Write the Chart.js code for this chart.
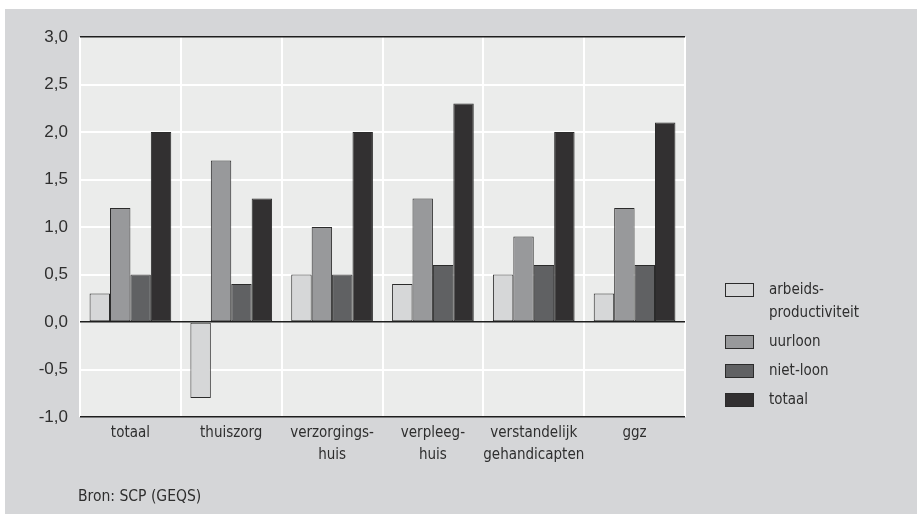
<!DOCTYPE html>
<html>
<head>
<meta charset="utf-8">
<script src="https://cdn.jsdelivr.net/npm/chart.js@4/dist/chart.umd.min.js"></script>
<style>
  html, body { margin: 0; padding: 0; background: #ffffff; }
  body { width: 917px; height: 514px; position: relative; overflow: hidden; }
  #wrap { position: absolute; left: 5px; top: 9px; width: 912px; height: 505px; background: #d5d6d8; }
  canvas { display: block; }
</style>
</head>
<body>
<div id="wrap"><canvas id="c" width="912" height="505"></canvas></div>
<script>
// ---- data ----
const categories = ['totaal', 'thuiszorg', ['verzorgings-', 'huis'], ['verpleeg-', 'huis'], ['verstandelijk', 'gehandicapten'], 'ggz'];
const seriesNames = [['arbeids-', 'productiviteit'], ['uurloon'], ['niet-loon'], ['totaal']];
const arbeidsproductiviteit = [0.3, -0.8, 0.5, 0.4, 0.5, 0.3];
const uurloon = [1.2, 1.7, 1.0, 1.3, 0.9, 1.2];
const nietLoon = [0.5, 0.4, 0.5, 0.6, 0.6, 0.6];
const totaal = [2.0, 1.3, 2.0, 2.3, 2.0, 2.1];
const yTicks = [-1.0, -0.5, 0.0, 0.5, 1.0, 1.5, 2.0, 2.5, 3.0];
const sourceNote = 'Bron: SCP (GEQS)';

const seriesColors = ['#d6d7d8', '#98999b', '#606163', '#323031'];
const narrow = '"DejaVu Sans Condensed", "Liberation Sans", Arial, sans-serif';
const regular = '"Liberation Sans", Arial, sans-serif';
const textColor = '#2e2e2e';

const bgPlugin = {
  id: 'bg',
  beforeDraw(chart) {
    const { ctx, chartArea: a } = chart;
    ctx.save();
    ctx.fillStyle = '#ebeceb';
    ctx.fillRect(a.left, a.top, a.right - a.left, a.bottom - a.top);
    ctx.restore();
  }
};

const legendPlugin = {
  id: 'customLegend',
  afterDraw(chart) {
    const ctx = chart.ctx;
    ctx.save();
    ctx.font = '15px ' + narrow;
    ctx.textBaseline = 'middle';
    ctx.textAlign = 'left';
    let y = 281;
    const lineH = 23;
    seriesNames.forEach((lines, i) => {
      ctx.fillStyle = seriesColors[i];
      ctx.fillRect(720.5, y - 6.5, 28, 13);
      ctx.strokeStyle = '#2b2b2b';
      ctx.lineWidth = 1;
      ctx.strokeRect(720.5, y - 6.5, 28, 13);
      ctx.fillStyle = textColor;
      lines.forEach((t, j) => ctx.fillText(t, 764, y + j * lineH));
      y += lines.length * lineH + 6;
    });
    ctx.font = '15.5px ' + narrow;
    ctx.fillText(sourceNote, 73, 488);
    ctx.restore();
  }
};

const makeDs = (label, data, i) => ({
  label: label.join(' '),
  data: data,
  backgroundColor: seriesColors[i],
  borderColor: '#2b2b2b',
  borderWidth: 1,
  borderSkipped: false,
  categoryPercentage: 0.81,
  barPercentage: 1.0
});

new Chart(document.getElementById('c'), {
  type: 'bar',
  data: {
    labels: categories,
    datasets: [
      makeDs(seriesNames[0], arbeidsproductiviteit, 0),
      makeDs(seriesNames[1], uurloon, 1),
      makeDs(seriesNames[2], nietLoon, 2),
      makeDs(seriesNames[3], totaal, 3)
    ]
  },
  options: {
    responsive: false,
    devicePixelRatio: 1,
    animation: false,
    layout: { padding: { left: 0, top: 28, right: 232, bottom: 0 } },
    plugins: { legend: { display: false }, tooltip: { enabled: false } },
    scales: {
      x: {
        afterFit(s) { s.height = 97; },
        border: { display: false },
        grid: { color: '#ffffff', lineWidth: 2, drawTicks: false, offset: true },
        ticks: { color: textColor, font: { family: narrow, size: 15, lineHeight: 1.45 }, padding: 5, maxRotation: 0, autoSkip: false }
      },
      y: {
        min: -1, max: 3,
        afterFit(s) { s.width = 75; },
        afterBuildTicks(s) { s.ticks = yTicks.map(v => ({ value: v })); },
        border: { display: false },
        grid: {
          drawTicks: false,
          color: c => (c.tick && (c.tick.value === 0 || c.tick.value === 3 || c.tick.value === -1)) ? '#1e1e1e' : '#ffffff',
          lineWidth: c => (c.tick && (c.tick.value === 0 || c.tick.value === 3 || c.tick.value === -1)) ? 1.5 : 2
        },
        ticks: {
          color: textColor,
          font: { family: regular, size: 17 },
          padding: 12,
          callback: v => Number(v).toFixed(1).replace('.', ',')
        }
      }
    }
  },
  plugins: [bgPlugin, legendPlugin]
});
</script>
</body>
</html>
